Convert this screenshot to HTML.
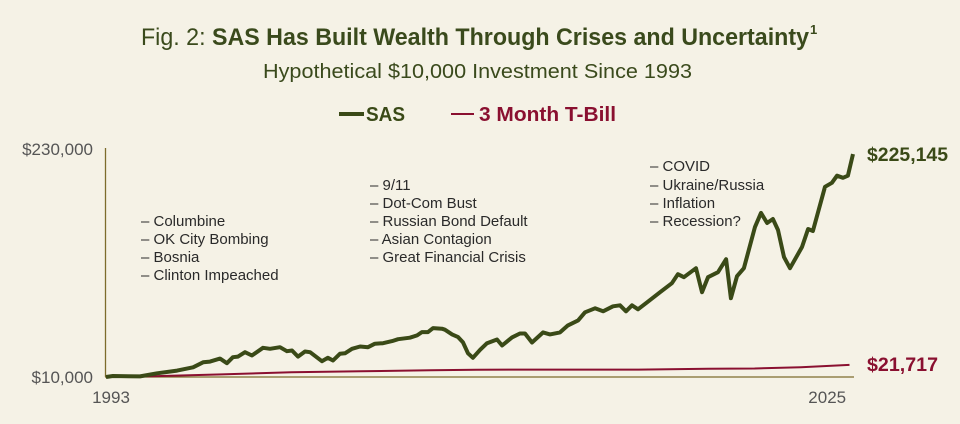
<!DOCTYPE html>
<html><head><meta charset="utf-8"><style>
html,body{margin:0;padding:0;background:#f5f2e6;}
svg{display:block;font-family:"Liberation Sans Narrow","Liberation Sans",sans-serif;}
</style></head><body>
<svg id="chart" width="960" height="424" viewBox="0 0 960 424" xmlns="http://www.w3.org/2000/svg">
<rect width="960" height="424" fill="#f5f2e6"/>
<text x="141" y="45" font-size="24" fill="#3a4a1c" textLength="668" lengthAdjust="spacingAndGlyphs">Fig. 2: <tspan font-weight="bold">SAS Has Built Wealth Through Crises and Uncertainty</tspan></text>
<text x="810" y="34" font-size="13" font-weight="bold" fill="#3a4a1c">1</text>
<text x="263" y="78" font-size="20" fill="#3a4a1c" textLength="429" lengthAdjust="spacingAndGlyphs">Hypothetical $10,000 Investment Since 1993</text>
<g>
<g>
<line x1="339" y1="114" x2="364" y2="114" stroke="#3a4a17" stroke-width="4"/>
<text x="366" y="121" font-size="20" font-weight="bold" fill="#3a4a17" textLength="39" lengthAdjust="spacingAndGlyphs">SAS</text></g>
<g>
<line x1="451" y1="114" x2="474" y2="114" stroke="#8a1030" stroke-width="2"/>
<text x="479" y="121" font-size="20" font-weight="bold" fill="#8a1030" textLength="137" lengthAdjust="spacingAndGlyphs">3 Month T-Bill</text></g>
</g>
<line x1="105.5" y1="148" x2="105.5" y2="377" stroke="#7d6c2c" stroke-width="1.3"/>
<line x1="105" y1="377" x2="854" y2="377" stroke="#7d6c2c" stroke-width="1.3"/>
<g font-size="17" fill="#555" id="ticks"></g>
<g font-size="15" fill="#2a2a2a">
<g><text x="141" y="226">– Columbine</text><text x="141" y="244">– OK City Bombing</text><text x="141" y="262">– Bosnia</text><text x="141" y="280">– Clinton Impeached</text></g>
<g><text x="370" y="190">– 9/11</text><text x="370" y="208">– Dot-Com Bust</text><text x="370" y="226">– Russian Bond Default</text><text x="370" y="244">– Asian Contagion</text><text x="370" y="262">– Great Financial Crisis</text></g>
<g><text x="650" y="171">– COVID</text><text x="650" y="190">– Ukraine/Russia</text><text x="650" y="208">– Inflation</text><text x="650" y="226">– Recession?</text></g>
</g>
<g id="series"></g>
<text x="867" y="161" font-size="19" font-weight="bold" fill="#3a4a17" textLength="81" lengthAdjust="spacingAndGlyphs">$225,145</text>
<text x="867" y="371" font-size="19" font-weight="bold" fill="#8a1030" textLength="71" lengthAdjust="spacingAndGlyphs">$21,717</text>
</svg>
<script>
const sasYears=[1993.0,1993.3,1994.47,1995.2,1996.07,1996.76,1997.19,1997.49,1997.92,1998.22,1998.48,1998.7,1999.0,1999.3,1999.78,2000.08,2000.51,2000.81,2001.03,2001.29,2001.59,2001.81,2002.32,2002.58,2002.8,2003.1,2003.32,2003.62,2003.97,2004.31,2004.61,2004.96,2005.35,2005.61,2006.12,2006.43,2006.64,2006.9,2007.12,2007.5,2007.63,2007.94,2008.2,2008.41,2008.63,2008.84,2009.15,2009.45,2009.88,2010.1,2010.53,2010.87,2011.09,2011.39,2011.87,2012.17,2012.6,2012.94,2013.38,2013.68,2014.11,2014.46,2014.89,2015.19,2015.45,2015.71,2015.97,2016.36,2016.92,2017.43,2017.69,2017.95,2018.47,2018.73,2018.99,2019.42,2019.77,2019.98,2020.24,2020.54,2021.02,2021.28,2021.54,2021.79,2022.01,2022.27,2022.53,2023.05,2023.31,2023.52,2024.04,2024.34,2024.56,2024.82,2025.03,2025.25];
const sasValues=[10.0,11.0,10.6,13.6,16.2,19.4,24.2,24.9,27.8,23.3,29.1,29.7,33.9,30.7,38.2,37.2,38.8,34.9,35.6,29.7,34.6,33.9,25.2,28.5,25.9,32.4,32.9,37.2,39.4,38.8,42.1,42.6,44.6,46.5,47.9,50.1,53.3,53.3,57.2,56.6,55.6,51.1,48.5,43.6,32.9,28.5,36.2,42.6,46.2,40.4,48.2,52.0,52.0,43.3,53.0,51.1,53.0,59.8,64.6,72.4,76.3,73.4,78.2,79.2,73.4,79.2,75.3,82.1,91.8,100.5,109.2,106.3,115.0,91.8,106.3,111.1,123.7,86.0,107.3,115.0,154.8,168.3,158.6,162.5,151.8,125.7,115.0,135.4,152.8,150.9,193.5,197.4,204.2,202.2,204.2,225.1];
const tbillYears=[1993,1995,1998,2001,2004,2007,2009,2016,2019,2021,2023,2025.1];
const tbillValues=[10.0,10.8,12.5,14.5,15.5,16.6,17.0,17.1,18.0,18.2,19.5,21.7];
const yTickValues=[10,230];
const yTickLabels=["$10,000","$230,000"];
const xTickValues=[1993,2025];
const xTickLabels=["1993","2025"];

const NS="http://www.w3.org/2000/svg";
const xS=y=>106+(y-1993)/(2025.25-1993)*747;
const yS=v=>377-(v-10)/(230-10)*228;
function path(xs,vs){return xs.map((x,i)=>(i?"L":"M")+xS(x).toFixed(1)+","+yS(vs[i]).toFixed(1)).join(" ");}
const g=document.getElementById("series");
const t=document.createElementNS(NS,"path");
t.setAttribute("d",path(tbillYears,tbillValues));
t.setAttribute("fill","none");t.setAttribute("stroke","#8a1030");t.setAttribute("stroke-width","2");


g.appendChild(t);
const s=document.createElementNS(NS,"path");
s.setAttribute("d",path(sasYears,sasValues));
s.setAttribute("fill","none");s.setAttribute("stroke","#3a4a17");s.setAttribute("stroke-width","4");s.setAttribute("stroke-linejoin","round");


g.appendChild(s);
const tk=document.getElementById("ticks");
yTickValues.forEach((v,i)=>{
  const e=document.createElementNS(NS,"text");
  e.setAttribute("x","93");e.setAttribute("y",(yS(v)+6).toFixed(1));e.setAttribute("text-anchor","end");
  e.textContent=yTickLabels[i];
  
  
  tk.appendChild(e);
});
xTickValues.forEach((v,i)=>{
  const e=document.createElementNS(NS,"text");
  const x=i===0?xS(v)+5:xS(v)-20;
  e.setAttribute("x",x.toFixed(1));e.setAttribute("y","403");e.setAttribute("text-anchor","middle");
  e.textContent=xTickLabels[i];
  
  
  tk.appendChild(e);
});
</script>
</body></html>
